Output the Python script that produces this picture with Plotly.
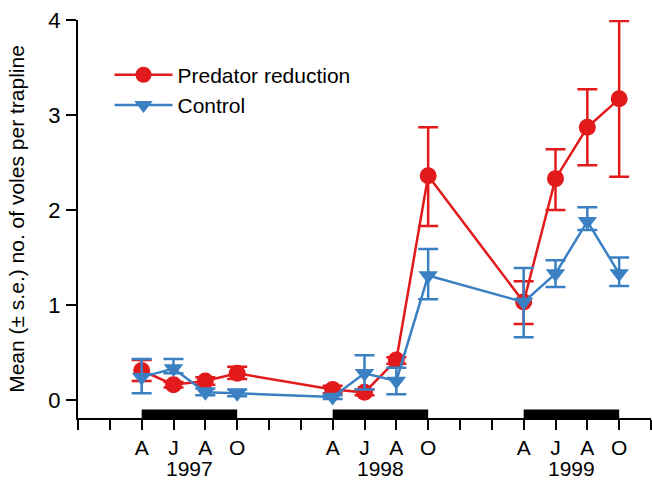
import plotly.graph_objects as go

months = ["A", "J", "A", "O"]
years = ["1997", "1998", "1999"]
x_pos = [2, 3, 4, 5, 8, 9, 10, 11, 14, 15, 16, 17]

pred_mean = [0.31, 0.16, 0.20, 0.28, 0.11, 0.08, 0.42, 2.36, 1.03, 2.33, 2.87, 3.17]
pred_hi = [0.42, 0.19, 0.24, 0.35, 0.15, 0.11, 0.45, 2.87, 1.25, 2.64, 3.27, 3.99]
pred_lo = [0.20, 0.13, 0.16, 0.22, 0.07, 0.05, 0.38, 1.83, 0.80, 2.00, 2.47, 2.35]

ctrl_mean = [0.24, 0.33, 0.08, 0.07, 0.03, 0.28, 0.20, 1.31, 1.03, 1.33, 1.88, 1.33]
ctrl_hi = [0.43, 0.43, 0.12, 0.11, 0.05, 0.47, 0.34, 1.59, 1.39, 1.47, 2.03, 1.50]
ctrl_lo = [0.07, 0.28, 0.05, 0.04, 0.01, 0.11, 0.06, 1.06, 0.66, 1.19, 1.79, 1.20]

RED = "#E31A1C"
BLUE = "#3A80C2"
FONT = "Liberation Sans, Arial, sans-serif"

fig = go.Figure()

def add_series(name, mean, hi, lo, color, symbol):
    fig.add_trace(go.Scatter(
        x=x_pos, y=mean, name=name, mode="lines+markers",
        line=dict(color=color, width=2.5),
        marker=dict(color=color, size=17, symbol=symbol, line=dict(width=0)),
        error_y=dict(type="data", symmetric=False,
                     array=[h - m for h, m in zip(hi, mean)],
                     arrayminus=[m - l for m, l in zip(mean, lo)],
                     color=color, thickness=2.5, width=10),
    ))

add_series("Predator reduction", pred_mean, pred_hi, pred_lo, RED, "circle")
add_series("Control", ctrl_mean, ctrl_hi, ctrl_lo, BLUE, "triangle-down")

# tick labels
tickvals = list(range(0, 19))
ticktext = [""] * 19
for i, xv in enumerate(x_pos):
    ticktext[xv] = months[i % 4]

# black season bars
for k in range(3):
    xs = x_pos[k * 4:(k + 1) * 4]
    fig.add_shape(type="rect", xref="x", yref="y", x0=xs[0], x1=xs[-1],
                  y0=-0.19, y1=-0.1, fillcolor="black", line=dict(width=0), layer="above")
    fig.add_annotation(x=(xs[0] + xs[-1]) / 2, y=0, xref="x", yref="paper",
                       yanchor="middle", yshift=-50, text=years[k], showarrow=False,
                       font=dict(size=21, color="black", family=FONT))

fig.update_layout(
    width=652, height=481,
    margin=dict(l=78, r=1, t=20, b=63),
    plot_bgcolor="white", paper_bgcolor="white",
    font=dict(family=FONT, size=21, color="black"),
    showlegend=True,
    legend=dict(x=0.055, y=0.913, xanchor="left", yanchor="top",
                bgcolor="rgba(0,0,0,0)", font=dict(size=21),
                tracegroupgap=0, itemwidth=58),
    xaxis=dict(range=[0, 18], tickmode="array", tickvals=tickvals, ticktext=ticktext,
               showgrid=False, zeroline=False, showline=True, linecolor="black",
               linewidth=2, ticks="outside", ticklen=10, tickwidth=2,
               tickcolor="black", tickfont=dict(size=21)),
    yaxis=dict(range=[-0.19, 4], tickmode="array", tickvals=[0, 1, 2, 3, 4],
               showgrid=False, zeroline=False, showline=True, linecolor="black",
               linewidth=2, ticks="outside", ticklen=10, tickwidth=2,
               tickcolor="black", tickfont=dict(size=22), ticklabelstandoff=1,
               title=dict(text="Mean (± s.e.) no. of voles per trapline",
                          font=dict(size=21), standoff=18)),
)

fig.write_html("out.html")
